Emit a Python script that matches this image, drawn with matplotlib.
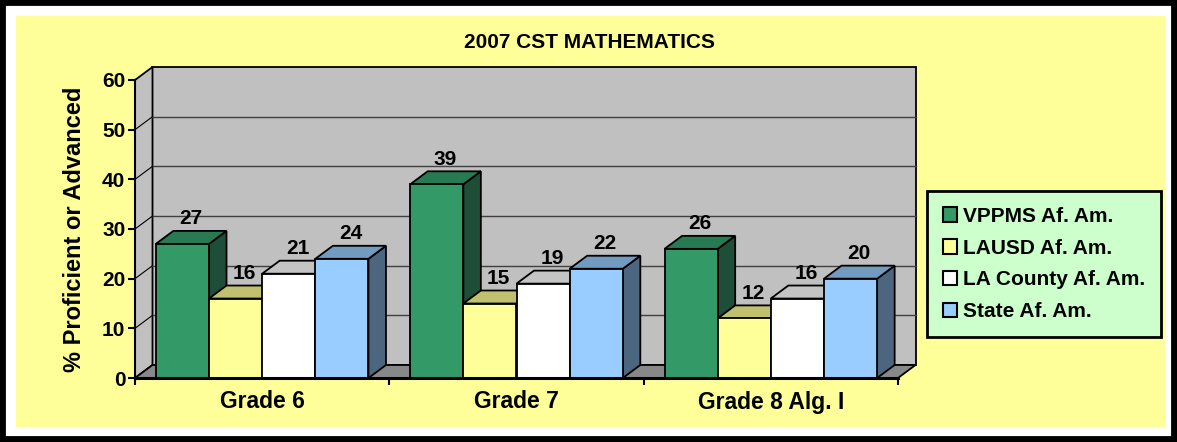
import matplotlib.pyplot as plt
from matplotlib.patches import Polygon, Rectangle, Patch

# datos del grafico
categorias = ['Grade 6', 'Grade 7', 'Grade 8 Alg. I']
series = ['VPPMS Af. Am.', 'LAUSD Af. Am.', 'LA County Af. Am.', 'State Af. Am.']
vppms = [27, 39, 26]
lausd = [16, 15, 12]
county = [21, 19, 16]
state = [24, 22, 20]
valores = [vppms, lausd, county, state]

# colores: frente, arriba, lado
col_frente = ['#339966', '#FFFF99', '#FFFFFF', '#99CCFF']
col_arriba = ['#287A52', '#C0C070', '#C4C4C4', '#739ABF']
col_lado = ['#1E4E37', '#80804D', '#A0A0A0', '#4D6680']

plt.rcParams['font.family'] = ['Liberation Sans', 'DejaVu Sans']
plt.rcParams['font.weight'] = 'bold'

W, H = 1177, 442
fig = plt.figure(figsize=(W / 100, H / 100), dpi=100)
fig.patch.set_facecolor('white')

# marco negro y fondo amarillo
fig.add_artist(Rectangle((0, 0), 1, 1, transform=fig.transFigure, fill=False,
                         edgecolor='black', linewidth=8.5, zorder=-10))
fig.add_artist(Rectangle((16 / W, 15 / H), 1149 / W, 411 / H, transform=fig.transFigure,
                         facecolor='#FFFF99', edgecolor='none', zorder=-9))

ax = fig.add_axes([135 / W, 64 / H, 763 / W, 298 / H])
ax.set_facecolor('none')
ax.set_xlim(-0.5, 2.5)
ax.set_ylim(0, 60)

# profundidad 3D en unidades de datos
ddx = 17.5 / (763 / 3)
ddy = 13 / (298 / 60)

x0, x1 = -0.5, 2.5
lw = 1.3
# pared de fondo
ax.add_patch(Polygon([(x0 + ddx, ddy), (x1 + ddx, ddy), (x1 + ddx, 60 + ddy), (x0 + ddx, 60 + ddy)],
                     closed=True, facecolor='#C0C0C0', edgecolor='black', lw=lw, clip_on=False, zorder=0.5))
# pared lateral
ax.add_patch(Polygon([(x0, 0), (x0 + ddx, ddy), (x0 + ddx, 60 + ddy), (x0, 60)],
                     closed=True, facecolor='#C0C0C0', edgecolor='black', lw=lw, clip_on=False, zorder=0.5))
# suelo
ax.add_patch(Polygon([(x0, 0), (x1, 0), (x1 + ddx, ddy), (x0 + ddx, ddy)],
                     closed=True, facecolor='#888888', edgecolor='black', lw=lw, clip_on=False, zorder=0.6))
# lineas de cuadricula
for yv in range(10, 60, 10):
    ax.plot([x0 + ddx, x1 + ddx], [yv + ddy, yv + ddy], color='#404040', lw=1, zorder=0.7, clip_on=False)
    ax.plot([x0, x0 + ddx], [yv, yv + ddy], color='black', lw=0.8, zorder=0.7, clip_on=False)

# barras
ancho = 0.209
z = 2
for i in range(len(categorias)):
    for j in range(len(series)):
        v = valores[j][i]
        xl = i - 2 * ancho + j * ancho
        xr = xl + ancho
        ax.bar(xl, v, width=ancho, align='edge', color=col_frente[j], edgecolor='black',
               linewidth=lw, zorder=z + 0.2)
        ax.add_patch(Polygon([(xr, 0), (xr + ddx, ddy), (xr + ddx, v + ddy), (xr, v)], closed=True,
                             facecolor=col_lado[j], edgecolor='black', lw=lw, zorder=z))
        ax.add_patch(Polygon([(xl, v), (xr, v), (xr + ddx, v + ddy), (xl + ddx, v + ddy)], closed=True,
                             facecolor=col_arriba[j], edgecolor='black', lw=lw, zorder=z + 0.1))
        ax.annotate(str(v), (xl + ancho / 2 + ddx / 2, v + ddy), xytext=(0, 2),
                    textcoords='offset points', ha='center', va='bottom',
                    fontsize=15, fontweight='bold', zorder=50)
        z += 1

# ejes
for s in ['top', 'right']:
    ax.spines[s].set_visible(False)
ax.spines['left'].set_linewidth(1.5)
ax.spines['bottom'].set_linewidth(2.2)
ax.spines['left'].set_zorder(40)
ax.spines['bottom'].set_zorder(40)
ax.set_yticks(range(0, 70, 10))
ax.tick_params(axis='y', length=5, width=1.5, pad=2, labelsize=15)
ax.set_xticks([-0.5, 0.5, 1.5, 2.5])
ax.set_xticklabels([])
ax.tick_params(axis='x', which='major', length=5, width=1.5)
ax.set_xticks([0, 1, 2], minor=True)
ax.set_xticklabels(categorias, minor=True, fontsize=16.5, fontweight='bold')
ax.tick_params(axis='x', which='minor', length=0, pad=9)
for t in ax.get_yticklabels():
    t.set_fontweight('bold')

ax.set_ylabel('% Proficient or Advanced', fontsize=17, fontweight='bold')
ax.yaxis.set_label_coords(-0.064, 0.5)

fig.text(590 / W, 1 - 43 / H, '2007 CST MATHEMATICS', ha='center', va='center',
         fontsize=15, fontweight='bold')

# leyenda
handles = [Patch(facecolor=c, edgecolor='black', linewidth=1.5) for c in col_frente]
leg = fig.legend(handles, series, loc='center left', bbox_to_anchor=(927 / W, 1 - 264 / H),
                 frameon=True, fancybox=False, facecolor='#CCFFCC', edgecolor='black',
                 prop={'weight': 'bold', 'size': 15}, handlelength=0.7, handleheight=0.7,
                 handletextpad=0.3, labelspacing=0.62, borderpad=0.75, borderaxespad=0)
leg.get_frame().set_linewidth(2)
leg.get_frame().set_alpha(1)

plt.savefig('out.png', dpi=100)
